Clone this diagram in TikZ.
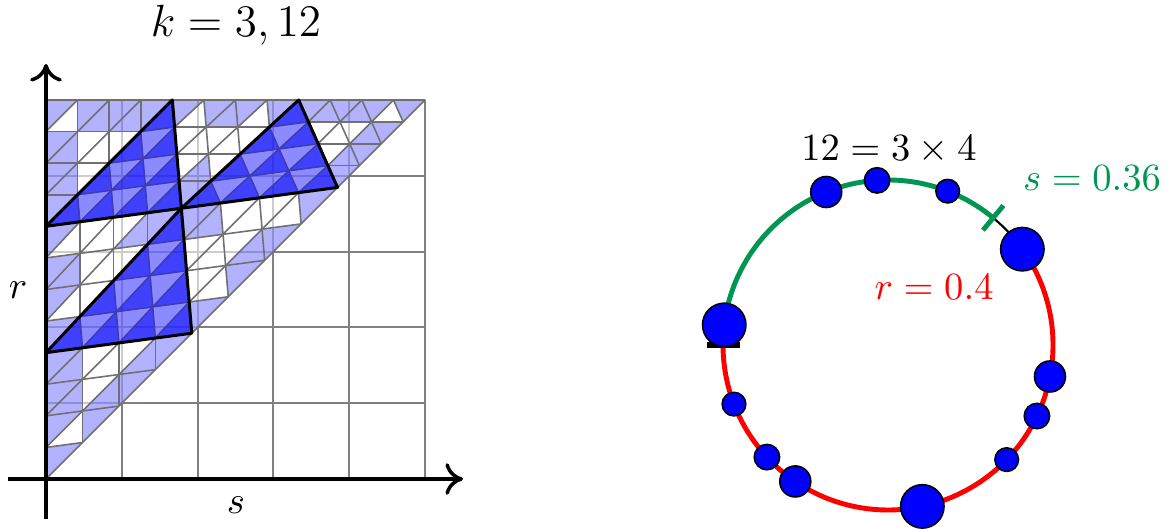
\documentclass[tikz,border=0pt,11pt]{standalone}
\usepackage{amsmath,amssymb}
\usepackage{graphicx}
\usepackage{tikz}
\usetikzlibrary{arrows.meta,calc}
\definecolor{rsInk}{HTML}{000000}
\definecolor{rsGridGray}{HTML}{808080}
\definecolor{rsMeshGray}{HTML}{707070}
\definecolor{rsBlue}{HTML}{0000FF}
\definecolor{rsGreen}{HTML}{009652}
\definecolor{rsRed}{HTML}{FF0000}
\tikzset{
  rsGrid/.style={draw=rsGridGray,line width=0.55pt},
  rsVeil/.style={fill=white,fill opacity=0.6},
  rsFine/.style={fill=rsBlue,fill opacity=0.3},
  rsFineDeep/.style={fill=rsBlue,fill opacity=0.54},
  rsMesh/.style={draw=rsMeshGray,line width=0.45pt,line join=round},
  rsCoarse/.style={fill=rsBlue,fill opacity=0.45},
  rsCoarseEdge/.style={draw=rsInk,line width=0.85pt,line join=round},
  rsAxis/.style={draw=rsInk,line width=1pt,-{To[length=5pt,width=9pt]}},
  rsArc/.style={line width=1.4pt},
  rsDot/.style={circle,draw=rsInk,fill=rsBlue,line width=0.45pt,inner sep=0pt}
}
% pieces of a k=3 cell that stay white (s/o + weights of X,Y,Z)
\newcommand{\rsWhite}[2]{%
  \foreach \w in {#2}{\expandafter\gdef\csname rsW#1\w\endcsname{}}%
}
% k=3 cell #2,#3,#4 cut 4x4, fill all pieces but the white ones
\newcommand{\rsSplitOpen}[4]{%
  \foreach \ii in {0,...,3}{%
    \pgfmathtruncatemacro{\jm}{3-\ii}%
    \foreach \jj in {0,...,\jm}{%
      \pgfmathtruncatemacro{\kk}{3-\ii-\jj}%
      \pgfmathtruncatemacro{\kp}{\kk+1}%
      \pgfmathtruncatemacro{\ip}{\ii+1}%
      \pgfmathtruncatemacro{\jp}{\jj+1}%
      \ifcsname rsW#1s\kk\ii\jj\endcsname\else
        \fill[rsFine] (barycentric cs:#2=\kp,#3=\ii,#4=\jj)
          -- (barycentric cs:#2=\kk,#3=\ip,#4=\jj)
          -- (barycentric cs:#2=\kk,#3=\ii,#4=\jp) -- cycle;
      \fi
    }%
  }%
  \foreach \ii in {0,...,2}{%
    \pgfmathtruncatemacro{\jm}{2-\ii}%
    \foreach \jj in {0,...,\jm}{%
      \pgfmathtruncatemacro{\mm}{2-\ii-\jj}%
      \pgfmathtruncatemacro{\mp}{\mm+1}%
      \pgfmathtruncatemacro{\ip}{\ii+1}%
      \pgfmathtruncatemacro{\jp}{\jj+1}%
      \ifcsname rsW#1o\mm\ii\jj\endcsname\else
        \fill[rsFine] (barycentric cs:#2=\mm,#3=\ip,#4=\jp)
          -- (barycentric cs:#2=\mp,#3=\ii,#4=\jp)
          -- (barycentric cs:#2=\mp,#3=\ip,#4=\jj) -- cycle;
      \fi
    }%
  }%
}
% k=3 cell that is filled: the pieces turned like it
\newcommand{\rsSplitFull}[3]{%
  \foreach \ii in {0,...,3}{%
    \pgfmathtruncatemacro{\jm}{3-\ii}%
    \foreach \jj in {0,...,\jm}{%
      \pgfmathtruncatemacro{\kk}{3-\ii-\jj}%
      \pgfmathtruncatemacro{\kp}{\kk+1}%
      \pgfmathtruncatemacro{\ip}{\ii+1}%
      \pgfmathtruncatemacro{\jp}{\jj+1}%
      \fill[rsFineDeep] (barycentric cs:#1=\kp,#2=\ii,#3=\jj)
        -- (barycentric cs:#1=\kk,#2=\ip,#3=\jj)
        -- (barycentric cs:#1=\kk,#2=\ii,#3=\jp) -- cycle;
    }%
  }%
}
% the 4x4 mesh lines of a k=3 cell
\newcommand{\rsLines}[3]{%
  \foreach \pp in {1,2,3}{%
    \pgfmathtruncatemacro{\qq}{4-\pp}%
    \draw[rsMesh] (barycentric cs:#1=\qq,#2=\pp,#3=0) -- (barycentric cs:#1=0,#2=\pp,#3=\qq);
    \draw[rsMesh] (barycentric cs:#1=\qq,#2=0,#3=\pp) -- (barycentric cs:#1=0,#2=\qq,#3=\pp);
    \draw[rsMesh] (barycentric cs:#1=\pp,#2=\qq,#3=0) -- (barycentric cs:#1=\pp,#2=0,#3=\qq);
  }%
  \draw[rsMesh] (#1) -- (#2) -- (#3) -- cycle;
}
\rsWhite{A}{s111,s021,s012,o200,o011}
\rsWhite{B}{s111,s021,s012,s201,s102,o200,o011,o020,o101}
\rsWhite{C}{s111,s201,s102,o020,o101}
\rsWhite{D}{s111,s210,s120,s021,s012,o002,o110,o200,o011}
\rsWhite{E}{s111,s210,s120,s201,s102,o002,o110,o020,o101}
\rsWhite{F}{s111,s210,s120,o002,o110}

\begin{document}
\begin{tikzpicture}[x=0.01cm,y=0.01cm,font=\normalsize]
\useasboundingbox (0,0) rectangle (1170,531);
% k=3 corners, s -> 46+379s, r -> 52+379r
\coordinate (O)  at (46,52);
\coordinate (L1) at (46,178.33);
\coordinate (L2) at (46,304.67);
\coordinate (L3) at (46,431);
\coordinate (T1) at (172.33,431);
\coordinate (T2) at (298.67,431);
\coordinate (T3) at (425,431);
\coordinate (D1) at (191.77,197.77);
\coordinate (D2) at (337.54,343.54);
\coordinate (Q)  at (181.36,322.71);

% grid
\foreach \g in {0,...,5}{
  \draw[rsGrid] ({46+75.8*\g},52) -- ({46+75.8*\g},431);
  \draw[rsGrid] (46,{52+75.8*\g}) -- (425,{52+75.8*\g});
}
\fill[rsVeil] (O) -- (L3) -- (T3) -- cycle;

% k = 12
\rsSplitOpen{A}{O}{L1}{D1}
\rsSplitOpen{B}{L1}{L2}{Q}
\rsSplitOpen{C}{L2}{L3}{T1}
\rsSplitOpen{D}{D1}{Q}{D2}
\rsSplitOpen{E}{Q}{T1}{T2}
\rsSplitOpen{F}{D2}{T2}{T3}
\rsSplitFull{L1}{Q}{D1}
\rsSplitFull{L2}{T1}{Q}
\rsSplitFull{Q}{T2}{D2}
\foreach \a/\b/\c in {O/L1/D1,L1/L2/Q,L2/L3/T1,D1/Q/D2,Q/T1/T2,
    D2/T2/T3,L1/Q/D1,L2/T1/Q,Q/T2/D2}{
  \rsLines{\a}{\b}{\c}
}

% k = 3
\foreach \a/\b/\c in {L1/Q/D1,L2/T1/Q,Q/T2/D2}{
  \fill[rsCoarse] (\a) -- (\b) -- (\c) -- cycle;
  \draw[rsCoarseEdge] (\a) -- (\b) -- (\c) -- cycle;
}

% axes
\coordinate (xa0) at (8,52);
\coordinate (xa1) at (463,52);
\coordinate (ya0) at (46,12);
\coordinate (ya1) at (46,467);
\draw[rsAxis] (xa0) -- (xa1);
\draw[rsAxis] (ya0) -- (ya1);
\node (sax) at (236,26) {$s$};
\node (rax) at (18,241) {$r$};
\node[font=\large] (klab) at (236,506) {\scalebox{1.07}{$k=3,12$}};

% circle
\coordinate (cc) at (888,186);
\draw[rsArc,rsGreen] ($(cc)+(180:165)$) arc[start angle=180,end angle=50.4,radius=165];
\draw[line width=0.6pt,rsInk] ($(cc)+(50.4:165)$) arc[start angle=50.4,end angle=36,radius=165];
\draw[rsArc,rsRed] ($(cc)+(36:165)$) arc[start angle=36,end angle=-180,radius=165];
\draw[rsArc,rsGreen] ($(cc)+(50.4:149)$) -- ($(cc)+(50.4:181)$);
\draw[line width=1.7pt,rsInk] ($(cc)+(180:148)$) -- ($(cc)+(180:181)$);
\foreach \a/\d [count=\n] in {35.5/0.434,173/0.434,282/0.434,
    112/0.31,235.8/0.31,349/0.31,93.8/0.254,222.8/0.254,334.5/0.254,
    68.8/0.236,201/0.236,316/0.236}{
  \node[rsDot,minimum size=\d cm] (dot\n) at ($(cc)+(\a:165)$) {};
}
\node (prod) at (889,381) {$12=3\times 4$};
\node[text=rsGreen] (slab) at (1092,353) {$s=0.36$};
\node[text=rsRed] (rlab) at (934,244) {$r=0.4$};
\end{tikzpicture}
\end{document}
